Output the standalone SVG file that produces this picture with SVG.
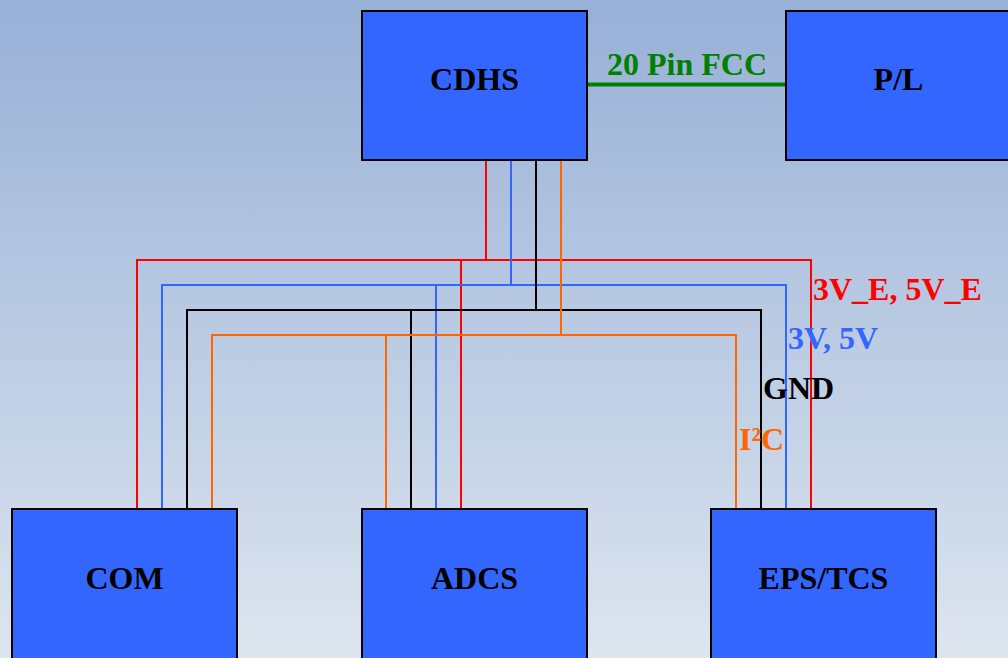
<svg xmlns="http://www.w3.org/2000/svg" width="1008" height="658" viewBox="0 0 1008 658">
<defs>
<linearGradient id="bg" x1="0" y1="0" x2="0" y2="1">
<stop offset="0" stop-color="#97b0d6"/>
<stop offset="1" stop-color="#dde5ef"/>
</linearGradient>
<style>
.box{fill:#3366ff;stroke:#000;stroke-width:2}
.lbl{font-family:"Liberation Serif","Times New Roman",serif;font-weight:bold;font-size:32px;text-anchor:middle;fill:#000}
.w{fill:none;stroke-width:2}
.red{stroke:#ff0000}
.blue{stroke:#3366ff}
.blk{stroke:#000}
.org{stroke:#ff6600}
.t{font-family:"Liberation Serif","Times New Roman",serif;font-weight:bold;font-size:32px}
</style>
</defs>
<rect x="0" y="0" width="1008" height="658" fill="url(#bg)"/>
<g id="connectors">
<line x1="587" y1="84.5" x2="786" y2="84.5" stroke="#008000" stroke-width="4"/>
<path class="w red" d="M486,160 V260 M137,509 V260 H811 V509 M461,260 V509"/>
<path class="w blue" d="M511,160 V285 M162,509 V285 H786 V509 M436,285 V509"/>
<path class="w blk" d="M536,160 V310 M187,509 V310 H761 V509 M411,310 V509"/>
<path class="w org" d="M561,160 V335 M212,509 V335 H736 V509 M386,335 V509"/>
</g>
<g id="labels">
<text class="t" x="607" y="75" fill="#008000">20 Pin FCC</text>
<text class="t" x="813" y="300" fill="#ff0000">3V_E, 5V_E</text>
<text class="t" x="788" y="349" fill="#3366ff">3V, 5V</text>
<text class="t" x="763" y="399" fill="#000">GND</text>
<text class="t" x="739" y="450" fill="#ff6600">I²C</text>
</g>
<g id="CDHS"><rect class="box" x="362" y="11" width="225" height="149"/><text class="lbl" x="474.5" y="90">CDHS</text></g>
<g id="PL"><rect class="box" x="786" y="11" width="225" height="149"/><text class="lbl" x="898.5" y="90">P/L</text></g>
<g id="COM"><rect class="box" x="12" y="509" width="225" height="150"/><text class="lbl" x="124.5" y="589">COM</text></g>
<g id="ADCS"><rect class="box" x="362" y="509" width="225" height="150"/><text class="lbl" x="474.5" y="589">ADCS</text></g>
<g id="EPSTCS"><rect class="box" x="711" y="509" width="225" height="150"/><text class="lbl" x="823.5" y="589">EPS/TCS</text></g>
</svg>
